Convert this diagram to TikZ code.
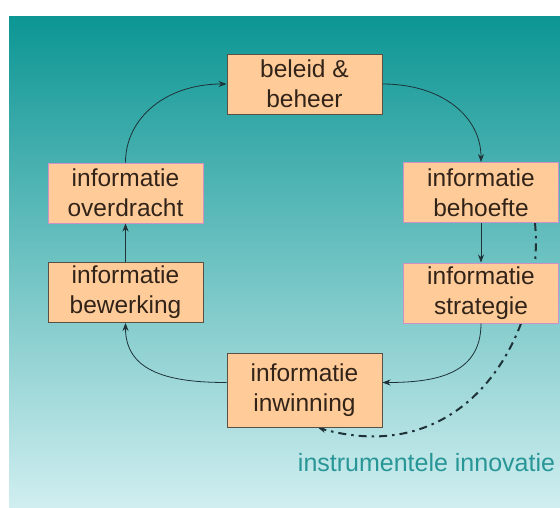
\documentclass[tikz,border=0pt]{standalone}
\usepackage{fontspec}
\setmainfont{Liberation Sans}
\usetikzlibrary{arrows.meta}
\pgfdeclarelayer{background}
\pgfsetlayers{background,main}
\definecolor{boxfill}{RGB}{255,204,153}
\definecolor{darkedge}{RGB}{90,80,70}
\definecolor{pinkedge}{RGB}{205,145,200}
\definecolor{bgtop}{RGB}{12,150,148}
\definecolor{bgbottom}{RGB}{208,238,240}
\definecolor{linecol}{RGB}{30,50,55}
\definecolor{labelcol}{RGB}{40,150,150}
\definecolor{textcol}{RGB}{50,35,25}
\tikzset{
  stagebox/.style={draw=darkedge, line width=1pt, fill=boxfill, minimum width=155pt, minimum height=60pt, inner sep=0pt, align=center, text=textcol, font=\fontsize{24.5}{30}\selectfont},
  pinkbox/.style={stagebox, draw=pinkedge},
  flow/.style={draw=linecol, line width=0.8pt, -{Stealth[length=8pt,width=6pt]}},
  innov/.style={draw=linecol, line width=2pt, dash pattern=on 8pt off 5pt on 2.5pt off 5pt, -{Stealth[length=7pt,width=6pt]}}
}
\begin{document}
\begin{tikzpicture}[x=1pt,y=-1pt]
\useasboundingbox (0,0) rectangle (560,507);
\begin{pgfonlayer}{background}
\shade[top color=bgtop, bottom color=bgbottom] (9,16) rectangle (560,507);
\end{pgfonlayer}
\node[stagebox] (beleid) at (304.5,84) {beleid \&\\beheer};
\node[pinkbox] (behoefte) at (481,192.5) {informatie\\behoefte};
\node[pinkbox] (strategie) at (481,293) {informatie\\strategie};
\node[pinkbox] (overdracht) at (125.5,193) {informatie\\overdracht};
\node[stagebox] (bewerking) at (125.5,292.5) {informatie\\bewerking};
\node[stagebox, minimum height=74pt] (inwinning) at (304.5,390.5) {informatie\\inwinning};
\node[text=labelcol, font=\fontsize{25}{30}\selectfont, anchor=center] (label) at (426.5,463) {instrumentele innovatie};
\draw[flow] (beleid.east) .. controls +(60,0) and +(0,-45) .. (behoefte.north);
\draw[flow] (behoefte.south) -- (strategie.north);
\draw[flow] (strategie.south) .. controls +(0,50) and +(55,0) .. ([yshift=8pt]inwinning.east);
\draw[flow] ([yshift=8pt]inwinning.west) .. controls +(-55,0) and +(0,50) .. (bewerking.south);
\draw[flow] (bewerking.north) -- (overdracht.south);
\draw[flow] (overdracht.north) .. controls +(0,-45) and +(-60,0) .. (beleid.west);
\begin{pgfonlayer}{background}
\draw[innov] ([xshift=-24pt]behoefte.south east) .. controls (545,330) and (470,470) .. ([xshift=14pt]inwinning.south);
\end{pgfonlayer}
\end{tikzpicture}
\end{document}
